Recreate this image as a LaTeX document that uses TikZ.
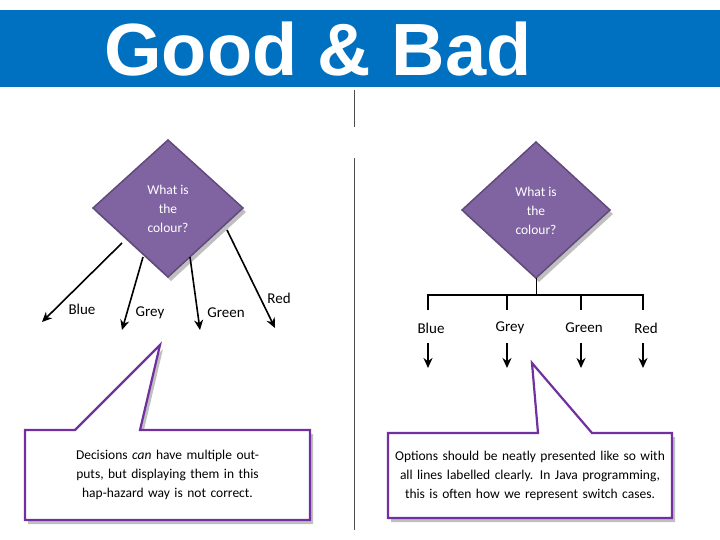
\documentclass[tikz,border=0pt]{standalone}
\usepackage{fontspec}
\setmainfont{Carlito}
\newfontfamily\titlefont{Liberation Sans}
\usetikzlibrary{arrows.meta}
\definecolor{barblue}{RGB}{0,112,192}
\definecolor{decfill}{RGB}{128,100,162}
\definecolor{decline}{RGB}{96,74,123}
\definecolor{callline}{RGB}{112,48,160}
\tikzset{
  decision/.style={fill=decfill,draw=decline,line width=1.5pt},
  shade/.style={fill=black!25},
  qtext/.style={text=white,font=\fontsize{13.5}{19}\selectfont,align=center},
  lbl/.style={font=\fontsize{15}{17}\selectfont},
  branch/.style={line width=1.6pt,-{Stealth[length=10pt,width=9pt]}},
  callout/.style={draw=callline,line width=2.2pt,fill=white},
  note/.style={font=\fontsize{13.5}{19}\selectfont,align=center,text width=272pt}
}
\begin{document}
\begin{tikzpicture}[x=1pt,y=-1pt]
\useasboundingbox (0,0) rectangle (720,540);

% title bar
\fill[barblue] (0,10) rectangle (720,87);
\node[text=white,font=\titlefont\bfseries\fontsize{74}{74}\selectfont] (title) at (318,49) {Good \& Bad};

% middle divider
\draw[black!70,line width=1pt] (354,90) -- (354,127);
\draw[black!70,line width=1pt] (354,158) -- (354,530);

% left diamond
\fill[shade] (171,145) -- (246,212) -- (171,281) -- (96,212) -- cycle;
\draw[decision] (168,140) -- (243,208) -- (168,277) -- (93,208) -- cycle;
\node[qtext] (qleft) at (168,209) {What is\\the\\colour?};

\coordinate (lb) at (122,243);
\coordinate (lg) at (143,257);
\coordinate (ln) at (190,257);
\coordinate (lr) at (227,230);
\coordinate (tb) at (42,322);
\coordinate (tg) at (122,330);
\coordinate (tn) at (200,330);
\coordinate (tr) at (275,328);
\foreach \s/\t in {lb/tb,lg/tg,ln/tn,lr/tr}
  \draw[branch] (\s) -- (\t);
\node[lbl] (blueL) at (82,309) {Blue};
\node[lbl] (greyL) at (150,313) {Grey};
\node[lbl] (greenL) at (226,313) {Green};
\node[lbl] (redL) at (279,298) {Red};

% right diamond
\fill[shade] (539,147) -- (613,214) -- (539,282) -- (465,214) -- cycle;
\draw[decision] (536,142) -- (610,210) -- (536,278) -- (462,210) -- cycle;
\node[qtext] (qright) at (536,211) {What is\\the\\colour?};

\coordinate (hub) at (536,295);
\draw[line width=1pt] (536,278) -- (hub);
\draw[line width=1.6pt] (428,310) -- (428,295) -- (643,295) -- (643,310);
\draw[line width=1.6pt] (507,295) -- (507,310);
\draw[line width=1.6pt] (581,295) -- (581,310);
\foreach \x/\name in {428/Blue,507/Grey,581/Green,643/Red} {
  \node[lbl] (\name R) at (\x+3,328) {\name};
  \draw[branch] (\x,343) -- (\x,368);
}

% left callout
\fill[shade] (28,434) -- (78,434) -- (163,349) -- (143,434) -- (313,434) -- (313,524) -- (28,524) -- cycle;
\draw[callout] (25,430) -- (75,430) -- (160,345) -- (140,430) -- (310,430) -- (310,520) -- (25,520) -- cycle;
\node[note] (noteL) at (167.5,475) {Decisions \textit{can} have multiple outputs, but displaying them in this hap-hazard way is not correct.};

% right callout
\fill[shade] (391,437) -- (541,437) -- (535,367) -- (595,437) -- (675,437) -- (675,522) -- (391,522) -- cycle;
\draw[callout] (388,433) -- (538,433) -- (532,363) -- (592,433) -- (672,433) -- (672,518) -- (388,518) -- cycle;
\node[note] (noteR) at (530,476) {Options should be neatly presented like so with all lines labelled clearly. In Java programming, this is often how we represent switch cases.};
\end{tikzpicture}
\end{document}
